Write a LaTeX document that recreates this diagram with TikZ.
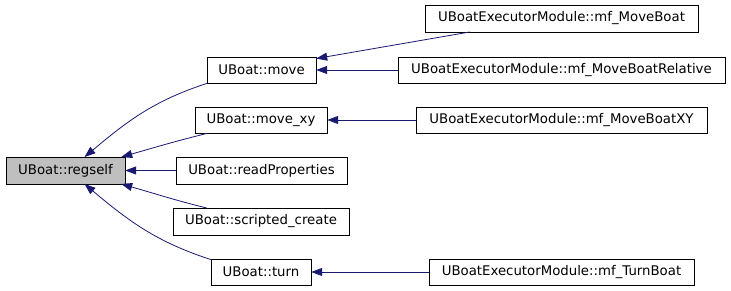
\documentclass[tikz,border=0pt]{standalone}
\usepackage{fontspec}
\setmainfont{DejaVu Sans}
\usetikzlibrary{arrows.meta}
\definecolor{edgeblue}{HTML}{191970}
\definecolor{curgray}{HTML}{BFBFBF}
\tikzset{
  fn/.style={draw=black, rectangle, minimum height=26.5pt, inner sep=0pt,
    font=\fontsize{13.3}{16}\selectfont},
  call/.style={draw=edgeblue, line width=0.8pt,
    -{Triangle[length=11pt,width=8pt,fill=edgeblue]}}
}
\begin{document}
\begin{tikzpicture}[x=1pt, y=1pt]
  \useasboundingbox (0,0) rectangle (731,291);
  % Fonction courante
  \node[fn, fill=curgray, minimum width=119pt] (regself) at (65.5,120.5) {UBoat::regself};
  % Appelants directs
  \node[fn, minimum width=109pt] (move) at (261.5,221) {UBoat::move};
  \node[fn, minimum width=132pt] (moveXY) at (261,171) {UBoat::move\_xy};
  \node[fn, minimum width=171pt] (readProps) at (261.5,120.5) {UBoat::readProperties};
  \node[fn, minimum width=176pt] (scriptedCreate) at (261,69.5) {UBoat::scripted\_create};
  \node[fn, minimum width=100pt] (turn) at (261,19) {UBoat::turn};
  % Appelants du module
  \node[fn, minimum width=273pt] (mfMoveBoat) at (561.5,272.5) {UBoatExecutorModule::mf\_MoveBoat};
  \node[fn, minimum width=327pt] (mfMoveBoatRel) at (561.5,221) {UBoatExecutorModule::mf\_MoveBoatRelative};
  \node[fn, minimum width=291pt] (mfMoveBoatXY) at (561.5,171) {UBoatExecutorModule::mf\_MoveBoatXY};
  \node[fn, minimum width=265pt] (mfTurnBoat) at (561.5,19) {UBoatExecutorModule::mf\_TurnBoat};

  % Appels vers regself
  \draw[call] (move.south west) to[out=198, in=40] ([xshift=19pt]regself.north);
  \draw[call] ([xshift=12pt]moveXY.south west) to[out=194, in=16] ([xshift=-4pt]regself.north east);
  \draw[call] (readProps.west) -- (regself.east);
  \draw[call] ([xshift=34pt]scriptedCreate.north west) to[out=166, in=-16] ([xshift=-4pt]regself.south east);
  \draw[call] ([yshift=-1pt]turn.north west) to[out=162, in=-40] ([xshift=19pt]regself.south);
  % Appels vers move, move_xy, turn
  \draw[call] ([xshift=-91.5pt]mfMoveBoat.south) -- ([yshift=-2pt]move.north east);
  \draw[call] (mfMoveBoatRel.west) -- (move.east);
  \draw[call] (mfMoveBoatXY.west) -- (moveXY.east);
  \draw[call] (mfTurnBoat.west) -- (turn.east);
\end{tikzpicture}
\end{document}
